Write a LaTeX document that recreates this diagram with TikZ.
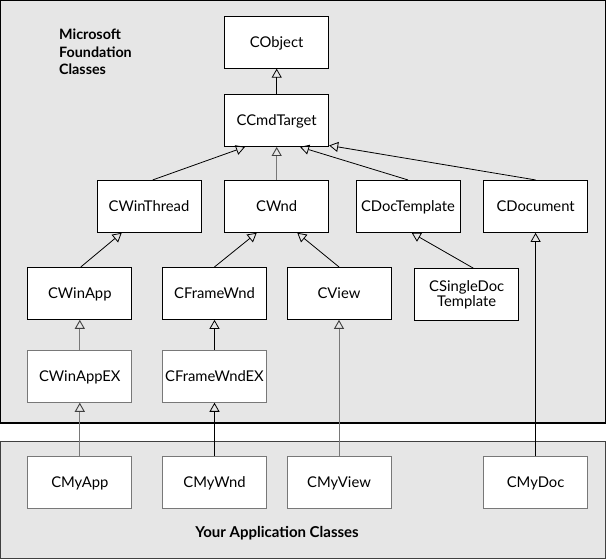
\documentclass[tikz,border=0pt]{standalone}
\usepackage{fontspec}
\setmainfont{Lato}
\usetikzlibrary{arrows.meta}
\definecolor{bgg}{HTML}{E6E6E6}
\definecolor{lng}{HTML}{787878}
\definecolor{frg}{HTML}{404040}
\begin{document}
\begin{tikzpicture}[x=1pt,y=-1pt,
  cls/.style={draw=black, fill=white, line width=0.9pt, minimum width=104pt, minimum height=52pt, inner sep=0pt, font=\fontsize{14.8}{15.5}\selectfont},
  one/.style={cls, text height=10.6pt, text depth=0pt},
  inh/.style={-{Triangle[open,length=9pt,width=10pt]}, line width=0.8pt},
  ginh/.style={-{Triangle[open,length=9pt,width=10pt,color=frg]}, line width=0.9pt, draw=lng},
  lbl/.style={inner sep=0pt, font=\bfseries\fontsize{14.3}{17}\selectfont}]
\useasboundingbox (0,0) rectangle (606,559);
% frames
\fill[bgg] (0,0) rectangle (606,423);
\draw[black, line width=1.2pt] (0.6,0.6) rectangle (605.4,423);
\fill[bgg] (0,441.5) rectangle (606,559);
\draw[frg, line width=1.2pt] (0.6,441.5) rectangle (605.4,558.4);
% labels
\node[lbl, anchor=base west] (mfc1) at (59,40) {Microsoft};
\node[lbl, anchor=base west] (mfc2) at (59,57.7) {Foundation};
\node[lbl, anchor=base west] (mfc3) at (59,74.3) {Classes};
\node[lbl, anchor=base, font=\bfseries\fontsize{15}{17}\selectfont] (yac) at (277,537.3) {Your Application Classes};
% MFC classes
\node[one] (cobj) at (276.7,42.2) {CObject};
\node[one] (ccmd) at (276.7,120.5) {CCmdTarget};
\node[one] (cwt) at (149,206.4) {CWinThread};
\node[one] (cwnd) at (276.7,206.4) {CWnd};
\node[one] (cdt) at (408,206.4) {CDocTemplate};
\node[one] (cdoc) at (535.6,206.4) {CDocument};
\node[one] (cwa) at (79.8,293.4) {CWinApp};
\node[one] (cfw) at (214.5,293.4) {CFrameWnd};
\node[one] (cview) at (339,293.4) {CView};
\node[cls, align=center] (csdt) at (466.7,294.6) {CSingleDoc\\Template};
\node[one, draw=lng] (cwaex) at (79.8,376.3) {CWinAppEX};
\node[one, draw=lng] (cfwex) at (214.5,376.3) {CFrameWndEX};
% application classes
\node[one, draw=lng] (cmyapp) at (79.8,482.5) {CMyApp};
\node[one, draw=lng] (cmywnd) at (214.5,482.5) {CMyWnd};
\node[one, draw=lng] (cmyview) at (339,482.5) {CMyView};
\node[one, draw=lng] (cmydoc) at (535.6,482.5) {CMyDoc};
% inheritance
\draw[inh] (ccmd.north) -- (cobj.south);
\draw[inh] ([xshift=3.7pt]cwt.north) -- ([xshift=-31.7pt]ccmd.south);
\draw[ginh] (cwnd.north) -- (ccmd.south);
\draw[inh] (cdt.north) -- ([xshift=23.3pt]ccmd.south);
\draw[inh] (cdoc.north) -- ([yshift=1.5pt]ccmd.south east);
\draw[inh] ([xshift=1pt]cwa.north) -- ([xshift=-27.3pt]cwt.south);
\draw[inh] (cfw.north) -- ([xshift=-20pt]cwnd.south);
\draw[inh] (cview.north) -- ([xshift=20.6pt]cwnd.south);
\draw[inh] ([xshift=6.6pt]csdt.north) -- ([xshift=3.7pt]cdt.south);
\draw[ginh] (cwaex.north) -- (cwa.south);
\draw[inh] (cfwex.north) -- (cfw.south);
\draw[ginh] (cmyapp.north) -- (cwaex.south);
\draw[inh] (cmywnd.north) -- (cfwex.south);
\draw[ginh] (cmyview.north) -- (cview.south);
\draw[inh] (cmydoc.north) -- (cdoc.south);
\end{tikzpicture}
\end{document}
